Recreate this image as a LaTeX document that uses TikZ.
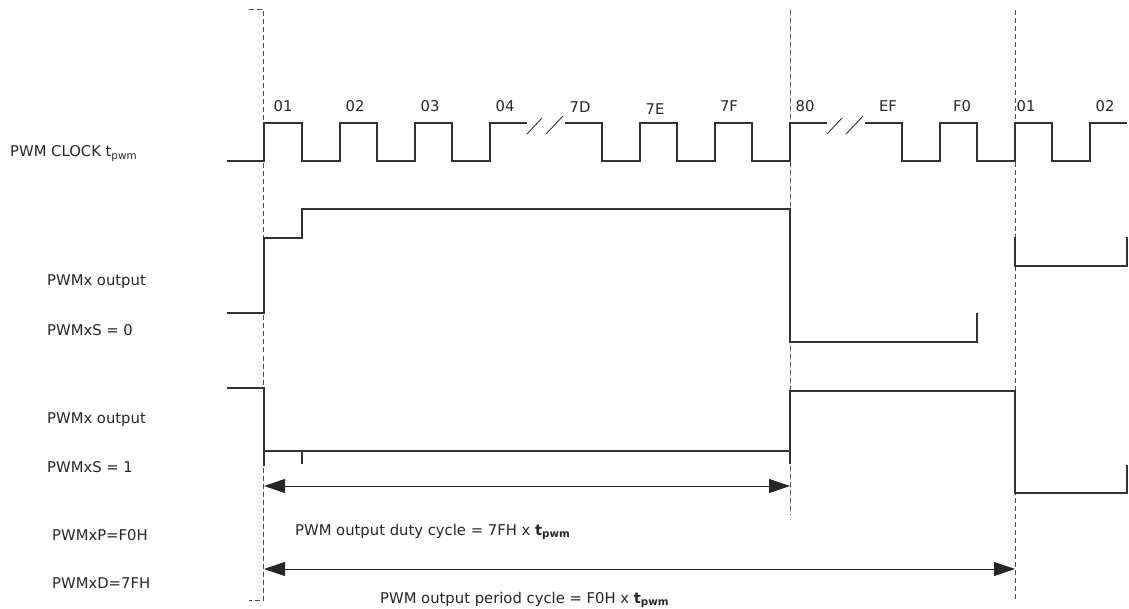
\documentclass[tikz,border=0pt]{standalone}
\usepackage{fontspec}
\setmainfont{DejaVu Sans}
\usetikzlibrary{arrows.meta}
\begin{document}
\begin{tikzpicture}[x=1pt,y=-1pt,
  wave/.style={line width=1.1pt, draw=black!80, line join=miter},
  guide/.style={line width=1pt, draw=black!70, dash pattern=on 5pt off 3pt},
  lbl/.style={anchor=base west, inner sep=0pt, font=\fontsize{14.8}{17}\selectfont, text=black!85},
  ticklbl/.style={anchor=base, inner sep=0pt, font=\fontsize{14.8}{17}\selectfont, text=black!85},
  dimline/.style={line width=1pt, draw=black!85, {Triangle[length=21pt,width=14pt]}-{Triangle[length=21pt,width=14pt]}}
]
\useasboundingbox (0,0) rectangle (1129,609);

% guide coordinates
\coordinate (g1t) at (263.5,10);
\coordinate (g1b) at (263.5,600);
\coordinate (g2t) at (790,10);
\coordinate (g2b) at (790,515);
\coordinate (g3t) at (1015,10);
\coordinate (g3b) at (1015,600);

\draw[guide] (249,10) -- (g1t) -- (g1b) -- (249,600);
\draw[guide] (g2t) -- (g2b);
\draw[guide] (g3t) -- (g3b);

% clock
\draw[wave] (227,161) -- (264,161) -- (264,123) -- (302,123) -- (302,161) -- (340,161) -- (340,123) -- (377,123) -- (377,161) -- (415,161) -- (415,123) -- (452,123) -- (452,161) -- (490,161) -- (490,123) -- (527,123);
\draw[wave] (565,123) -- (602,123) -- (602,161) -- (640,161) -- (640,123) -- (677,123) -- (677,161) -- (715,161) -- (715,123) -- (752,123) -- (752,161) -- (790,161) -- (790,123) -- (827,123);
\draw[wave] (865,123) -- (902,123) -- (902,161) -- (940,161) -- (940,123) -- (977,123) -- (977,161) -- (1015,161) -- (1015,123) -- (1052,123) -- (1052,161) -- (1090,161) -- (1090,123) -- (1127,123);
% break marks
\draw[wave, line width=0.9pt] (527,134) -- (542,118);
\draw[wave, line width=0.9pt] (546,134) -- (563,116);
\draw[wave, line width=0.9pt] (827,134) -- (842,118);
\draw[wave, line width=0.9pt] (846,134) -- (863,116);

% clock labels
\node[ticklbl] (c01) at (283,112) {01};
\node[ticklbl] (c02) at (355,112) {02};
\node[ticklbl] (c03) at (430,112) {03};
\node[ticklbl] (c04) at (505,112) {04};
\node[ticklbl] (c7D) at (580,113) {7D};
\node[ticklbl] (c7E) at (655,115) {7E};
\node[ticklbl] (c7F) at (729,112) {7F};
\node[ticklbl] (c80) at (805,112) {80};
\node[ticklbl] (cEF) at (888,112) {EF};
\node[ticklbl] (cF0) at (962,112) {F0};
\node[ticklbl] (c01b) at (1026,112) {01};
\node[ticklbl] (c02b) at (1105,112) {02};

% PWMxS = 0
\draw[wave] (227,313) -- (264,313) -- (264,238) -- (302,238) -- (302,209) -- (790,209) -- (790,342) -- (977,342) -- (977,313);
\draw[wave] (1015,237) -- (1015,266) -- (1127,266) -- (1127,237);

% PWMxS = 1
\draw[wave] (227,388) -- (264,388) -- (264,466);
\draw[wave] (264,451) -- (790,451);
\draw[wave] (302,451) -- (302,464);
\draw[wave] (790,464) -- (790,391) -- (1015,391) -- (1015,493) -- (1127,493) -- (1127,465);

% dimension arrows
\coordinate (d1a) at (264,486);
\coordinate (d1b) at (790,486);
\coordinate (d2a) at (264,569);
\coordinate (d2b) at (1015,569);
\draw[dimline] (d1a) -- (d1b);
\draw[dimline] (d2a) -- (d2b);

% left labels
\node[lbl] (lclk) at (10,157) {PWM CLOCK t\textsubscript{pwm}};
\node[lbl] (lo0) at (47,286) {PWMx output};
\node[lbl] (ls0) at (47,335) {PWMxS = 0};
\node[lbl] (lo1) at (47,423) {PWMx output};
\node[lbl] (ls1) at (47,472) {PWMxS = 1};
\node[lbl] (lp) at (52,540) {PWMxP=F0H};
\node[lbl] (ld) at (52,588) {PWMxD=7FH};

\node[lbl] (tduty) at (295,535) {PWM output duty cycle = 7FH x \textbf{t\textsubscript{pwm}}};
\node[lbl] (tper) at (380,603) {PWM output period cycle = F0H x \textbf{t\textsubscript{pwm}}};
\end{tikzpicture}
\end{document}
